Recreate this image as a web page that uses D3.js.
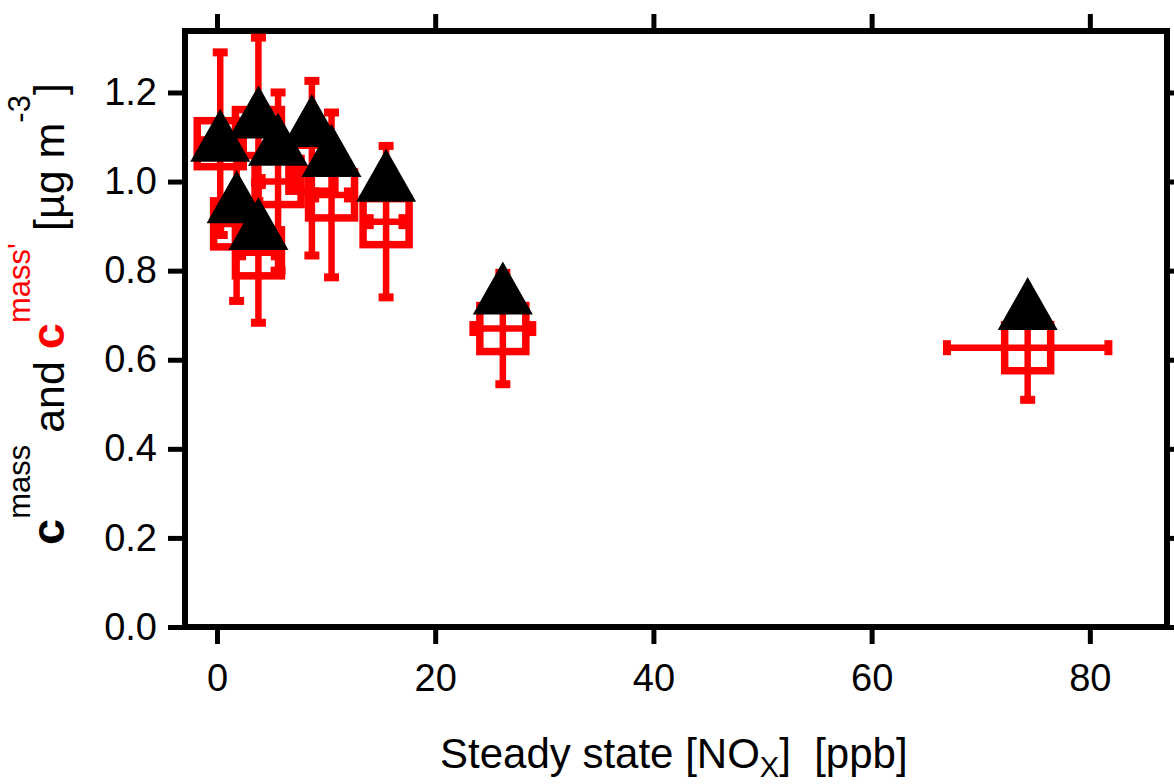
<html>
<head>
  <title>c mass vs steady state NOx</title>
</head>
<style>
  body {
    margin: 0;
    background: #fff;
  }

  svg text {
    font-family: "Liberation Sans", Arial, sans-serif;
    white-space: pre;
  }
</style>

<body>
  <div id="chart"></div>
</body>

<script src="https://cdn.jsdelivr.net/npm/d3@7"></script>
<script>

  // data
  const noxPpb = [0.3, 1.8, 3.8, 3.8, 5.6, 8.7, 10.5, 15.5, 26.2, 74.3];
  const noxErr = [1.5, 1.5, 1.5, 1.5, 1.5, 1.5, 1.5, 1.5, 2.7, 7.4];
  const cMassPrime = [1.085, 0.905, 1.11, 0.84, 1.00, 1.03, 0.97, 0.91, 0.67, 0.627];
  const cMassPrimeErr = [0.205, 0.173, 0.213, 0.157, 0.20, 0.196, 0.185, 0.17, 0.125, 0.117];
  const cMass = [1.104, 0.966, 1.156, 0.906, 1.095, 1.137, 1.07, 1.014, 0.761, 0.726];

  const xTicks = [0, 20, 40, 60, 80];
  const yTicks = [0, 0.2, 0.4, 0.6, 0.8, 1.0, 1.2];

  let width = 1174, height = 784;
  let pLeft = 185, pRight = 1167, pTop = 31, pBottom = 627;

  let x = d3.scaleLinear().domain([-2.93, 87.07]).range([pLeft, pRight]);
  let y = d3.scaleLinear().domain([0, 1.338]).range([pBottom, pTop]);

  let svg = d3.select("#chart").append("svg")
    .attr("width", width)
    .attr("height", height);

  let pts = noxPpb.map((d, i) => ({
    x: d, xe: noxErr[i], y2: cMassPrime[i], ye: cMassPrimeErr[i], y1: cMass[i]
  }));

  // axes (ticks outside on all four sides)
  function styleAxis(g) {
    g.select(".domain").remove();
    g.selectAll(".tick line").attr("stroke", "#000").attr("stroke-width", 5);
    g.selectAll(".tick text").attr("fill", "#000").style("font-size", "38px");
  }

  svg.append("g")
    .attr("transform", `translate(0,${pBottom})`)
    .call(d3.axisBottom(x).tickValues(xTicks).tickSize(17).tickPadding(20).tickFormat(d3.format("d")))
    .call(styleAxis);

  svg.append("g")
    .attr("transform", `translate(0,${pTop})`)
    .call(d3.axisTop(x).tickValues(xTicks).tickSize(17).tickFormat(""))
    .call(styleAxis);

  svg.append("g")
    .attr("transform", `translate(${pLeft},0)`)
    .call(d3.axisLeft(y).tickValues(yTicks).tickSize(17).tickPadding(11).tickFormat(d3.format(".1f")))
    .call(styleAxis);

  svg.append("g")
    .attr("transform", `translate(${pRight},0)`)
    .call(d3.axisRight(y).tickValues(yTicks).tickSize(17).tickFormat(""))
    .call(styleAxis);

  svg.append("rect")
    .attr("x", pLeft).attr("y", pTop)
    .attr("width", pRight - pLeft).attr("height", pBottom - pTop)
    .attr("fill", "none").attr("stroke", "#000").attr("stroke-width", 6);

  // red error bars + open squares
  let red = svg.append("g").attr("stroke", "#ff0000").attr("fill", "none");
  let capLen = 15, capW = 8, barW = 6.5, sq = 46;

  pts.forEach(p => {
    let cx = x(p.x), cy = y(p.y2);
    let g = red.append("g");
    // vertical
    g.append("line").attr("x1", cx).attr("x2", cx)
      .attr("y1", y(p.y2 - p.ye)).attr("y2", y(p.y2 + p.ye)).attr("stroke-width", barW);
    [p.y2 - p.ye, p.y2 + p.ye].forEach(v => {
      g.append("line").attr("x1", cx - capLen / 2).attr("x2", cx + capLen / 2)
        .attr("y1", y(v)).attr("y2", y(v)).attr("stroke-width", capW);
    });
    // horizontal
    g.append("line").attr("y1", cy).attr("y2", cy)
      .attr("x1", x(p.x - p.xe)).attr("x2", x(p.x + p.xe)).attr("stroke-width", barW);
    [p.x - p.xe, p.x + p.xe].forEach(v => {
      g.append("line").attr("y1", cy - capLen / 2).attr("y2", cy + capLen / 2)
        .attr("x1", x(v)).attr("x2", x(v)).attr("stroke-width", capW);
    });
    g.append("rect").attr("x", cx - sq / 2).attr("y", cy - sq / 2)
      .attr("width", sq).attr("height", sq).attr("stroke-width", 7.5);
  });

  // black filled triangles
  let triW = 60, triH = 53;
  svg.append("g").selectAll("path")
    .data(pts)
    .join("path")
    .attr("d", p => {
      let cx = x(p.x), cy = y(p.y1);
      return `M${cx - triW / 2},${cy + triH / 2}L${cx},${cy - triH / 2}L${cx + triW / 2},${cy + triH / 2}Z`;
    })
    .attr("fill", "#000");

  // x label
  let xl = svg.append("text")
    .attr("x", 440).attr("y", 768)
    .style("font-size", "42px").attr("fill", "#000");
  xl.append("tspan").text("Steady state [NO");
  xl.append("tspan").attr("dy", 9).style("font-size", "29px").text("X");
  xl.append("tspan").attr("dy", -9).text("]  [ppb]");

  // y label
  let yl = svg.append("text")
    .attr("transform", "translate(64,545) rotate(-90)")
    .style("font-size", "43px").attr("fill", "#000");
  yl.append("tspan").style("font-weight", "bold").style("font-size", "47px").text("c");
  yl.append("tspan").attr("dy", -34).style("font-size", "31px").text("mass");
  yl.append("tspan").attr("dy", 34).text(" and ");
  yl.append("tspan").attr("fill", "#ff0000").style("font-weight", "bold").style("font-size", "47px").text("c");
  yl.append("tspan").attr("fill", "#ff0000").attr("dy", -34).style("font-size", "31px").text("mass'");
  yl.append("tspan").attr("dy", 34).text(" [µg m");
  yl.append("tspan").attr("dy", -34).style("font-size", "31px").text("-3");
  yl.append("tspan").attr("dy", 34).text("]");

</script>

</html>
